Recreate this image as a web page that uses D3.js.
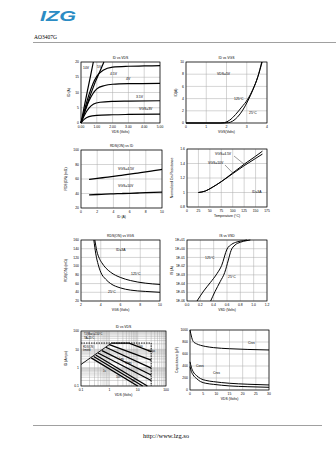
<!DOCTYPE html>
<html><head><meta charset="utf-8">
<script src="https://cdn.jsdelivr.net/npm/d3@7"></script>
<style>body{margin:0;background:#fff}svg{display:block}text{font-family:"Liberation Sans",Arial,sans-serif;fill:#000}</style>
</head><body><script>
// ---------- DATA ----------
// Chart 1: ID vs VDS
const c1Ticks=[0,1,2,3,4,5], c1TickLabels=["0.00","1.00","2.00","3.00","4.00","5.00"], c1YTicks=[0,5,10,15,20];
const c1_10V=[[0,0],[0.2,5.2],[0.4,10.4],[0.6,15.4],[0.78,20]];
const c1_5V=[[0,0],[0.3,4.8],[0.6,9.3],[0.9,13.4],[1.2,17],[1.45,20]];
const c1_45V=[[0,0],[0.25,4.8],[0.5,9.2],[0.75,12.8],[1.0,15.3],[1.4,17.3],[2.0,18.3],[3.0,18.6],[4.0,18.7],[5.0,18.8]];
const c1_4V=[[0,0],[0.25,3.8],[0.5,7.2],[0.75,9.6],[1.0,11.2],[1.5,12.3],[2.0,12.7],[3.0,12.9],[5.0,13.0]];
const c1_35V=[[0,0],[0.2,2.4],[0.5,4.9],[0.8,6.2],[1.2,6.8],[2.0,7.1],[3.0,7.2],[5.0,7.3]];
const c1_3V=[[0,0],[0.2,1.2],[0.5,2.1],[1.0,2.5],[2.0,2.7],[3.0,2.8],[5.0,2.9]];
// Chart 2: ID vs VGS
const c2Ticks=[0,1,2,3,4], c2YTicks=[0,2,4,6,8,10];
const c2_25=[[0,0],[1.9,0],[2.1,0.05],[2.3,0.3],[2.55,1.0],[2.8,2.1],[3.05,3.6],[3.3,5.4],[3.55,7.6],[3.76,10]];
const c2_125=[[0,0],[1.7,0],[1.9,0.06],[2.15,0.45],[2.45,1.4],[2.75,2.6],[3.05,3.9],[3.3,5.5],[3.55,7.6],[3.74,10]];
// Chart 3: RDS(ON) vs ID
const c3Ticks=[0,2,4,6,8,10], c3YTicks=[20,40,60,80,100];
const c3_45=[[1,59.5],[2,60.8],[3,62.2],[4,63.6],[5,65.1],[6,66.6],[7,68.2],[8,69.8],[9,71.5],[10,73.2]];
const c3_10=[[1,38.2],[2,38.6],[3,39.1],[4,39.5],[5,39.9],[6,40.3],[7,40.7],[8,41.1],[9,41.5],[10,41.9]];
// Chart 4: Normalized RDS vs Temperature
const c4Ticks=[0,25,50,75,100,125,150,175], c4YTicks=[0.8,1,1.2,1.4,1.6];
const c4_10=[[25,1.0],[40,1.02],[55,1.07],[75,1.15],[100,1.27],[125,1.39],[150,1.5],[165,1.57]];
const c4_45=[[25,1.0],[40,1.02],[55,1.07],[75,1.15],[100,1.26],[125,1.37],[150,1.47],[165,1.53]];
// Chart 5: RDS(ON) vs VGS
const c5Ticks=[2,4,6,8,10], c5YTicks=[20,40,60,80,100,120,140,160];
const c5_25=[[3.3,160],[3.5,128],[3.75,103],[4.0,86],[4.5,70],[5.0,60],[6.0,50],[7.0,45],[8.5,42],[10,40]];
const c5_125=[[3.4,160],[3.6,135],[3.85,118],[4.1,108],[4.5,96],[5.0,86],[6.0,74],[7.0,67],[8.5,61],[10,58]];
// Chart 6: IS vs VSD
const c6Ticks=[0,0.2,0.4,0.6,0.8,1.0,1.2], c6YTicks=[1e1,1e0,1e-1,1e-2,1e-3,1e-4,1e-5,1e-6];
const c6YLabels=["1E+01","1E+00","1E-01","1E-02","1E-03","1E-04","1E-05","1E-06"];
const c6_125=[[0.15,1e-6],[0.25,1.4e-5],[0.35,1.3e-4],[0.45,1.4e-3],[0.52,1.2e-2],[0.6,0.9],[0.67,3.2],[0.75,6],[0.85,8.5],[0.9,10]];
const c6_25=[[0.355,1e-6],[0.42,1.2e-5],[0.5,1.8e-4],[0.565,1.8e-3],[0.62,0.05],[0.66,0.6],[0.72,2.6],[0.8,5.5],[0.9,8.6],[0.95,10]];
// Chart 7: SOA
const c7Ticks=[0.1,1,10,100], c7TickLabels=["0.1","1","10","100"], c7YTicks=[0.1,1,10,100], c7YLabels=["0.1","1","10","100"];
const c7_rds=[[0.1,1.5],[1.2,22]];
const c7_limit=[[0.1,22],[30,22],[30,0.1]];
const c7_10us=[[1.2,22],[5,22],[30,7.5]];
const c7_100us=[[1.0,18],[30,2.6]];
const c7_1ms=[[0.75,13],[30,0.95]];
const c7_10ms=[[0.55,8.5],[30,0.4]];
const c7_100ms=[[0.4,6.3],[30,0.2]];
const c7_1s=[[0.33,4.9],[22,0.1]];
const c7_10s=[[0.28,4.1],[15,0.1]];
const c7_dc=[[0.23,3.4],[10,0.1]];
// Chart 8: Capacitance
const c8Ticks=[0,5,10,15,20,25,30], c8YTicks=[0,200,400,600,800,1000];
const c8_ciss=[[0,1000],[0.5,900],[1.2,810],[2.5,770],[4,745],[6,725],[9,706],[15,688],[22,676],[30,667]];
const c8_coss=[[0,470],[0.5,380],[1.2,305],[2.5,240],[4,190],[6,160],[9,139],[15,112],[22,96],[30,84]];
const c8_crss=[[0,390],[0.5,310],[1.2,250],[2.5,190],[4,140],[6,112],[9,94],[15,68],[22,55],[30,45]];

// ---------- DRAW ----------
const W=336,H=475;
const svg=d3.select("body").append("svg").attr("width",W).attr("height",H);
// header
svg.append("text").attr("x",40).attr("y",21).attr("font-size",14).attr("font-weight","bold").attr("font-style","italic")
  .attr("textLength",36).attr("lengthAdjust","spacingAndGlyphs").style("fill","#2b8cc4").text("IZG");
svg.append("text").attr("x",34).attr("y",39).attr("font-size",5.5).style("font-family","Liberation Serif, serif").text("AO3407G");
svg.append("line").attr("x1",33).attr("x2",336).attr("y1",42.5).attr("y2",42.5).attr("stroke","#777").attr("stroke-width",0.7);
svg.append("line").attr("x1",33).attr("x2",322).attr("y1",425.5).attr("y2",425.5).attr("stroke","#777").attr("stroke-width",0.7);
svg.append("text").attr("x",166).attr("y",438).attr("font-size",6.5).attr("text-anchor","middle").style("font-family","Liberation Serif, serif").text("http://www.lzg.so");

const FS=3.4;
function chart(o){
  const g=svg.append("g");
  const x=(o.xlog?d3.scaleLog():d3.scaleLinear()).domain(o.xd).range([o.l,o.r]);
  const y=(o.ylog?d3.scaleLog():d3.scaleLinear()).domain(o.yd).range([o.b,o.t]);
  if(o.minor){
    const mx=[],my=[];
    for(let d=o.xd[0];d<o.xd[1];d*=10) for(let k=2;k<10;k++) mx.push(d*k);
    for(let d=o.yd[0];d<o.yd[1];d*=10) for(let k=2;k<10;k++) my.push(d*k);
    g.selectAll(null).data(mx).enter().append("line").attr("x1",d=>x(d)).attr("x2",d=>x(d)).attr("y1",o.t).attr("y2",o.b).attr("stroke","#999").attr("stroke-width",0.4);
    g.selectAll(null).data(my).enter().append("line").attr("y1",d=>y(d)).attr("y2",d=>y(d)).attr("x1",o.l).attr("x2",o.r).attr("stroke","#999").attr("stroke-width",0.4);
  }
  g.selectAll(null).data(o.xt).enter().append("line").attr("x1",d=>x(d)).attr("x2",d=>x(d)).attr("y1",o.t).attr("y2",o.b).attr("stroke","#aaa").attr("stroke-width",0.5);
  g.selectAll(null).data(o.yt).enter().append("line").attr("y1",d=>y(d)).attr("y2",d=>y(d)).attr("x1",o.l).attr("x2",o.r).attr("stroke","#aaa").attr("stroke-width",0.5);
  g.append("rect").attr("x",o.l).attr("y",o.t).attr("width",o.r-o.l).attr("height",o.b-o.t).attr("fill","none").attr("stroke","#000").attr("stroke-width",0.7);
  g.selectAll(null).data(o.xt).enter().append("text").attr("x",d=>x(d)).attr("y",o.b+5).attr("font-size",FS).attr("text-anchor","middle")
    .text((d,i)=>o.xl?o.xl[i]:d);
  g.selectAll(null).data(o.yt).enter().append("text").attr("x",o.l-2).attr("y",d=>y(d)+1.2).attr("font-size",FS).attr("text-anchor","end")
    .text((d,i)=>o.yl?o.yl[i]:d);
  g.append("text").attr("x",(o.l+o.r)/2).attr("y",o.b+10).attr("font-size",FS).attr("text-anchor","middle").text(o.xlab);
  g.append("text").attr("transform",`translate(${o.yx},${(o.t+o.b)/2}) rotate(-90)`).attr("font-size",FS).attr("text-anchor","middle").text(o.ylab);
  if(o.title) g.append("text").attr("x",o.tx||(o.l+o.r)/2).attr("y",o.t-3).attr("font-size",FS).attr("text-anchor","middle").text(o.title);
  const line=d3.line().x(d=>x(d[0])).y(d=>y(d[1])).curve(d3.curveMonotoneX);
  const lineL=d3.line().x(d=>x(d[0])).y(d=>y(d[1]));
  (o.series||[]).forEach(s=>{
    g.append("path").attr("d",(s.lin?lineL:line)(s.d)).attr("fill","none").attr("stroke","#000")
      .attr("stroke-width",s.w||1.2).attr("stroke-dasharray",s.dash||null);
  });
  (o.labels||[]).forEach(t=>{
    g.append("text").attr("x",t[0]).attr("y",t[1]).attr("font-size",t[3]||FS).attr("text-anchor",t[4]||"start").text(t[2]);
  });
  return {x,y,g};
}

chart({l:81,r:160,t:62,b:123,xd:[0,5],yd:[0,20],xt:c1Ticks,xl:c1TickLabels,yt:c1YTicks,
  xlab:"VDS (Volts)",ylab:"ID (A)",yx:70,title:"ID vs VDS",
  series:[{d:c1_10V,lin:1},{d:c1_5V,lin:1},{d:c1_45V},{d:c1_4V},{d:c1_35V},{d:c1_3V}],
  labels:[[83,69,"10V"],[97,68,"5V"],[110,75,"4.5V"],[126,80,"4V"],[136,98,"3.5V"],[139,110,"VGS=3V"]]});

chart({l:186,r:267,t:62,b:123,xd:[0,4],yd:[0,10],xt:c2Ticks,yt:c2YTicks,
  xlab:"VGS(Volts)",ylab:"ID(A)",yx:177,title:"ID vs VGS",
  series:[{d:c2_25,w:1},{d:c2_125,w:1}],
  labels:[[217,75,"VDS=5V"],[234,100,"125°C"],[249,114,"25°C"]]});

chart({l:81,r:162,t:150,b:208,xd:[0,10],yd:[20,100],xt:c3Ticks,yt:c3YTicks,
  xlab:"ID (A)",ylab:"RDS(ON) (mΩ)",yx:67,title:"RDS(ON) vs ID",
  series:[{d:c3_45,w:1.3},{d:c3_10,w:1.3}],
  labels:[[118,170,"VGS=4.5V"],[118,187,"VGS=10V"]]});

const c4=chart({l:187,r:267,t:149,b:207,xd:[0,175],yd:[0.8,1.6],xt:c4Ticks,yt:c4YTicks,
  xlab:"Temperature (°C)",ylab:"Normalized On-Resistance",yx:173,
  series:[{d:c4_10,w:1},{d:c4_45,w:1}],
  labels:[[215,155,"VGS=4.5V"],[208,164,"VGS=10V"],[252,193,"ID=3A"]]});
c4.g.append("line").attr("x1",234).attr("y1",156).attr("x2",c4.x(125)).attr("y2",c4.y(1.39)).attr("stroke","#000").attr("stroke-width",0.4);
c4.g.append("line").attr("x1",225).attr("y1",165).attr("x2",c4.x(100)).attr("y2",c4.y(1.27)).attr("stroke","#000").attr("stroke-width",0.4);

chart({l:81,r:160,t:240,b:301,xd:[2,10],yd:[20,160],xt:c5Ticks,yt:c5YTicks,
  xlab:"VGS (Volts)",ylab:"RDS(ON) (mΩ)",yx:67,title:"RDS(ON) vs VGS",
  series:[{d:c5_25,w:1},{d:c5_125,w:1}],
  labels:[[116,251,"ID=3A"],[131,275,"125°C"],[108,293,"25°C"]]});

chart({l:187,r:267,t:240,b:301,xd:[0,1.2],yd:[1e-6,1e1],ylog:1,xt:c6Ticks,xl:c6Ticks.map(d=>d.toFixed(1)),yt:c6YTicks,yl:c6YLabels,
  xlab:"VSD (Volts)",ylab:"IS (A)",yx:173,title:"IS vs VSD",
  series:[{d:c6_125,w:1},{d:c6_25,w:1}],
  labels:[[205,259,"125°C"],[228,278,"25°C"]]});

chart({l:81,r:166,t:331,b:386,xd:[0.1,100],yd:[0.1,100],xlog:1,ylog:1,minor:1,xt:c7Ticks,xl:c7TickLabels,yt:c7YTicks,yl:c7YLabels,
  xlab:"VDS (Volts)",ylab:"ID (Amps)",yx:67,title:"ID vs VDS",
  series:[{d:c7_limit,lin:1,dash:"1.5,1",w:0.9},{d:c7_rds,lin:1,w:0.9},{d:c7_10us,lin:1,w:1.3},{d:c7_100us,lin:1,w:1.3},{d:c7_1ms,lin:1,w:1.3},
    {d:c7_10ms,lin:1,w:1.3},{d:c7_100ms,lin:1,w:1.3},{d:c7_1s,lin:1,w:1.3},{d:c7_10s,lin:1,w:1.3},{d:c7_dc,lin:1,w:1.3}],
  labels:[[84,335,"TJ(Max)=150°C",2.6],[84,339,"TA=25°C",2.6],[83,348,"RDS(ON)",2.6],[83,351,"limited",2.6],
    [137,347,"10µs",2.6],[148,352,"100µs",2.6],[119,360,"1ms",2.6],[125,364,"10ms",2.6],[103,372,"1s",2.6],[116,378,"10s",2.6],[132,382,"DC",2.6]]});

chart({l:190,r:269,t:330,b:390,xd:[0,30],yd:[0,1000],xt:c8Ticks,yt:c8YTicks,
  xlab:"VDS (Volts)",ylab:"Capacitance (pF)",yx:178,
  series:[{d:c8_ciss,w:1},{d:c8_coss,w:1},{d:c8_crss,w:1}],
  labels:[[248,344,"Ciss"],[196,367,"Coss"],[213,374,"Crss"]]});
</script></body></html>
